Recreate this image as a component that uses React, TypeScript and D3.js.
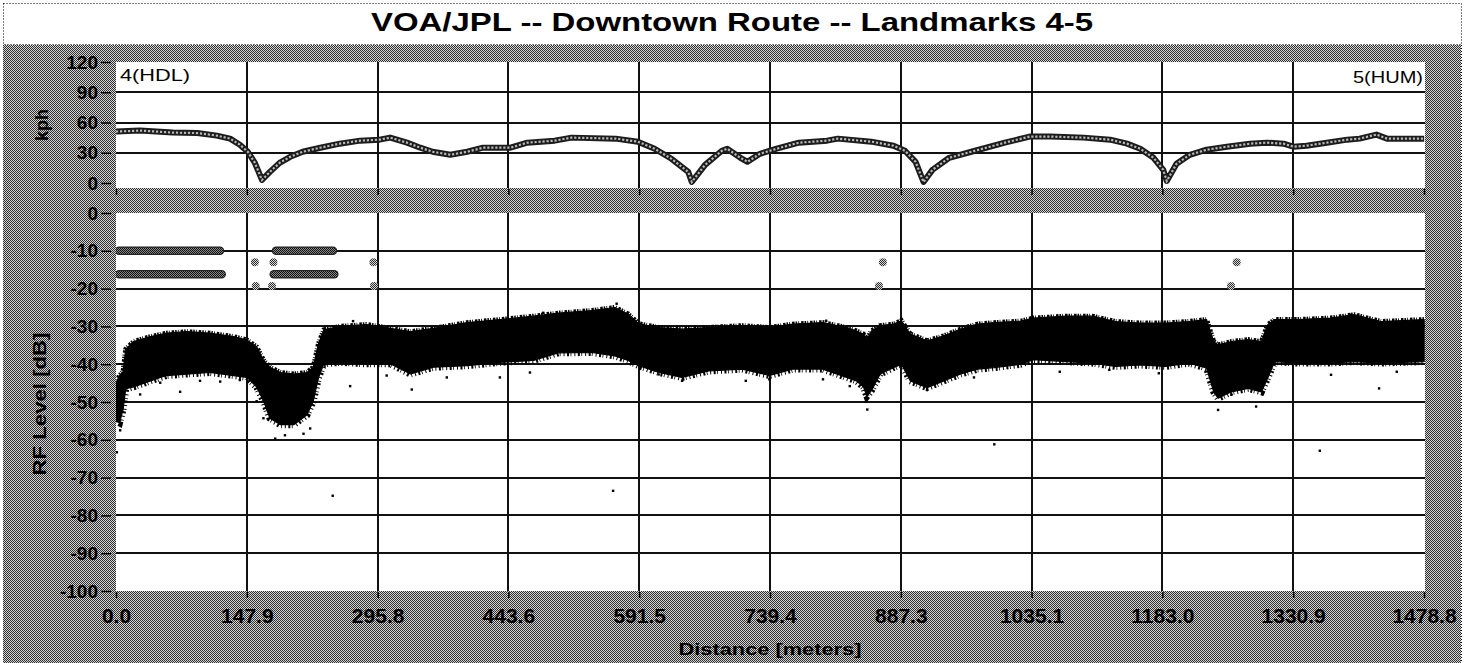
import React, { useEffect, useRef } from 'react';
import * as d3 from 'd3';

// tick labels
const xTickLabels = ['0.0', '147.9', '295.8', '443.6', '591.5', '739.4', '887.3', '1035.1', '1183.0', '1330.9', '1478.8'];
const kphTicks = [0, 30, 60, 90, 120];
const dbTicks = [0, -10, -20, -30, -40, -50, -60, -70, -80, -90, -100];

// vehicle speed (kph) vs distance (m)
const speedDist = [0, 27, 64, 92, 114, 129, 140, 149, 157, 165, 174, 185, 197, 211, 231, 253, 276, 298, 310, 329, 344, 358, 378, 397, 415, 446, 465, 496, 515, 565, 590, 609, 628, 647, 651, 666, 685, 691, 706, 714, 728, 747, 772, 804, 816, 854, 879, 892, 904, 913, 923, 942, 967, 1005, 1033, 1056, 1094, 1124, 1143, 1158, 1173, 1184, 1188, 1199, 1214, 1233, 1256, 1282, 1301, 1320, 1331, 1346, 1369, 1392, 1406, 1425, 1437, 1479];
const speedKph = [51, 52, 50, 49.5, 47, 44, 38, 31, 20, 3, 11, 20, 26, 31, 35, 39, 42, 43, 45, 40, 35, 31, 28, 31, 35, 35, 40, 42, 45, 44, 41, 34, 24, 11, 1, 18, 32, 34, 25, 21, 29, 34, 40, 42, 44, 41, 37, 32, 21, 1, 13, 25, 31, 40, 46, 46, 45, 43, 39, 34, 25, 13, 2, 19, 28, 33, 36, 39, 40, 39, 36, 37, 40, 43, 44, 48, 44, 44];

// RF level band: dense top and bottom edges of the received samples (dB)
const rfDist = [0, 4, 8, 11, 20, 39, 57, 80, 106, 133, 148, 159, 167, 174, 186, 201, 216, 223, 229, 235, 253, 283, 310, 333, 359, 397, 434, 472, 500, 538, 564, 579, 591, 614, 640, 670, 708, 739, 765, 799, 826, 837, 845, 849, 854, 864, 879, 888, 898, 917, 936, 955, 974, 993, 1023, 1037, 1074, 1104, 1130, 1157, 1187, 1213, 1233, 1241, 1246, 1261, 1280, 1295, 1302, 1310, 1336, 1373, 1400, 1430, 1479];
const rfTop = [-45, -43, -42, -36, -34, -32.7, -31.8, -31.4, -31.8, -32.7, -33.6, -35.4, -39, -40.8, -42.2, -42.6, -42.2, -40.8, -34.5, -30.9, -30, -29.5, -30.5, -31.4, -30.5, -29, -28.2, -27.3, -26.5, -25.8, -25, -26.7, -29.3, -30.3, -30.7, -30.3, -29.8, -30.3, -29.4, -29, -30.3, -31.2, -32, -33.5, -31.2, -29.8, -29.4, -28.5, -32, -33.8, -32.5, -30.7, -29.4, -29, -28.6, -27.8, -27.3, -27.3, -28.7, -29.1, -29.1, -28.7, -28.2, -34, -34.9, -34, -33.5, -34, -29.6, -28.2, -28.2, -27.8, -26.9, -28.7, -28.2];
const rfBottom = [-55, -55.5, -52, -46.5, -46, -44.4, -43, -42.6, -42.2, -43, -43.5, -46, -49.8, -54.3, -56, -56, -53.4, -49.8, -43.5, -39.9, -39.5, -39.9, -39.9, -42.6, -40.8, -40.4, -39.5, -39, -37, -36.9, -37.8, -39, -40.4, -42.2, -43.5, -41.8, -41.3, -43, -41.3, -41.3, -43.5, -44.4, -46, -48.5, -47, -42.6, -40.9, -40, -44.4, -46.2, -44.4, -42.6, -41.3, -40.9, -40, -38.8, -39.3, -39.7, -40.6, -40.2, -40.6, -39.7, -41, -47.3, -49, -47.3, -46.4, -47.3, -43.7, -39.3, -39.7, -39.7, -39.3, -39.7, -39.3];

// stray RF samples outside the band
const strayDist = [1, 4.7, 27.3, 50, 72.5, 95, 117.8, 140, 159, 166.7, 180, 191, 212, 219.5, 245, 264.7, 268, 306, 334.4, 374, 434, 468, 483, 562, 566, 613.5, 640, 712, 738.6, 799.3, 803, 829.6, 848.6, 849.4, 909, 917, 970, 993, 1067, 1123, 1179, 1246, 1261, 1289, 1361, 1373.7, 1396, 1428, 1448];
const strayDb = [-63.3, -57.5, -48, -44.9, -47.3, -44.4, -44.6, -44.2, -49.8, -54.3, -59.7, -58.8, -58.4, -57, -74.8, -45.8, -28.6, -43, -46.7, -43.5, -43.5, -42.2, -26.4, -73.5, -24, -42.7, -44.4, -44.4, -44, -44, -28.5, -45.8, -48.8, -52, -45.3, -46.6, -43.5, -61.2, -42, -41.5, -42.4, -52.1, -48.1, -51.2, -62.9, -42.8, -26.9, -46.4, -42];

// status traces: continuous runs and single marks
const runLevels = [-10, -16.2];
const runStart = [[0, 177.5], [0, 175]];
const runEnd = [[117.6, 245.3], [119.5, 246.8]];
const markUpperDist = [157, 178, 291, 867, 1267];
const markLowerDist = [158, 176.4, 291.7, 862.6, 1260.6];
const markLevels = [-13, -19.3];

const W = 1468;
const H = 663;
const plotLeft = 116;
const plotRight = 1425;
const font = "'Liberation Sans', Arial, sans-serif";

function Axis({ axis, transform, fontSize }: { axis: any; transform: string; fontSize: number }) {
  const ref = useRef<SVGGElement>(null);
  useEffect(() => {
    const g = d3.select(ref.current as SVGGElement);
    g.selectAll('*').remove();
    g.call(axis);
    g.attr('font-family', null).attr('font-size', null);
    g.select('.domain').remove();
    g.selectAll('.tick line').attr('stroke', '#000').attr('stroke-width', 1.5);
    g.selectAll('.tick text')
      .attr('fill', '#000')
      .attr('font-family', font)
      .attr('font-weight', 'bold')
      .attr('font-size', fontSize);
  });
  return <g ref={ref} transform={transform} />;
}

export default function App() {
  const x = d3.scaleLinear().domain([0, 1478.8]).range([plotLeft, 1424]);
  const xTicks = xTickLabels.map(Number);
  const yKph = d3.scaleLinear().domain([0, 120]).range([183, 62]);
  const yDb = d3.scaleLinear().domain([-100, 0]).range([591, 213]);

  const speedLine = d3
    .line<number>()
    .x((d) => x(d))
    .y((_, i) => yKph(speedKph[i]))(speedDist) as string;

  const band = d3
    .area<number>()
    .x((d) => x(d))
    .y0((_, i) => yDb(rfBottom[i]))
    .y1((_, i) => yDb(rfTop[i]))(rfDist) as string;

  const topEdge = d3
    .line<number>()
    .x((d) => x(d))
    .y((_, i) => yDb(rfTop[i]))(rfDist) as string;

  const bottomEdge = d3
    .line<number>()
    .x((d) => x(d))
    .y((_, i) => yDb(rfBottom[i]))(rfDist) as string;

  return (
    <svg width={W} height={H} style={{ position: 'absolute', left: 0, top: 0, background: '#fff' }}>
      <defs>
        <pattern id="dither" width="2" height="2" patternUnits="userSpaceOnUse">
          <rect width="2" height="2" fill="#d6d6d6" />
          <rect width="1" height="1" fill="#2e2e2e" />
          <rect x="1" y="1" width="1" height="1" fill="#2e2e2e" />
        </pattern>
        <pattern id="mark" width="2" height="2" patternUnits="userSpaceOnUse">
          <rect width="2" height="2" fill="#8a8a8a" />
          <rect width="1" height="1" fill="#111" />
          <rect x="1" y="1" width="1" height="1" fill="#111" />
        </pattern>
        <clipPath id="clipTop">
          <rect x={plotLeft} y={62} width={plotRight - plotLeft} height={126} />
        </clipPath>
        <clipPath id="clipBottom">
          <rect x={plotLeft} y={213} width={plotRight - plotLeft} height={378} />
        </clipPath>
      </defs>

      {/* frame + title */}
      <rect x={3} y={45} width={1458} height={618} fill="url(#dither)" />
      <rect x={3.5} y={3.5} width={1458} height={41} fill="#fff" stroke="#000" strokeDasharray="1,2" />
      <line x1={1461.5} y1={45} x2={1461.5} y2={663} stroke="#000" strokeDasharray="1,2" />
      <text x={732} y={31} textAnchor="middle" fontFamily={font} fontWeight="bold" fontSize={25} textLength={722} lengthAdjust="spacingAndGlyphs">
        VOA/JPL -- Downtown Route -- Landmarks 4-5
      </text>

      {/* plot areas */}
      <rect x={plotLeft} y={62} width={plotRight - plotLeft} height={126} fill="#fff" />
      <rect x={plotLeft} y={213} width={plotRight - plotLeft} height={378} fill="#fff" />

      {/* grid */}
      <g stroke="#111" strokeWidth={2} shapeRendering="crispEdges">
        {kphTicks.slice(1, -1).map((t) => (
          <line key={'hk' + t} x1={plotLeft} x2={plotRight} y1={Math.round(yKph(t))} y2={Math.round(yKph(t))} />
        ))}
        {dbTicks.slice(1, -1).map((t) => (
          <line key={'hd' + t} x1={plotLeft} x2={plotRight} y1={Math.round(yDb(t))} y2={Math.round(yDb(t))} />
        ))}
        {xTicks.slice(1, -1).map((t) => (
          <g key={'v' + t}>
            <line x1={Math.round(x(t))} x2={Math.round(x(t))} y1={62} y2={188} />
            <line x1={Math.round(x(t))} x2={Math.round(x(t))} y1={213} y2={591} />
          </g>
        ))}
      </g>

      {/* speed trace */}
      <g clipPath="url(#clipTop)">
        <path d={speedLine} fill="none" stroke="#1c1c1c" strokeWidth={6} strokeLinejoin="round" />
        <path d={speedLine} fill="none" stroke="#b8b8b8" strokeWidth={2.2} strokeDasharray="2.2,1.8" />
      </g>
      <text x={120} y={81} fontFamily={font} fontSize={16} textLength={70} lengthAdjust="spacingAndGlyphs">4(HDL)</text>
      <text x={1423} y={83} textAnchor="end" fontFamily={font} fontSize={16} textLength={70} lengthAdjust="spacingAndGlyphs">5(HUM)</text>

      {/* RF level */}
      <g clipPath="url(#clipBottom)">
        <path d={band} fill="#000" stroke="#000" strokeWidth={1.2} strokeLinejoin="round" />
        <path d={topEdge} fill="none" stroke="#000" strokeWidth={5} strokeDasharray="1.5,1.2,0.8,2,2.5,1" />
        <path d={bottomEdge} fill="none" stroke="#000" strokeWidth={7} strokeDasharray="1,2.5,2,1.5,0.8,3" />
        {strayDist.map((d, i) => (
          <rect key={'s' + i} x={x(d) - 1.2} y={yDb(strayDb[i]) - 1.2} width={2.4} height={2.4} fill="#000" />
        ))}
        {runLevels.map((lvl, r) =>
          runStart[r].map((s, k) => (
            <g key={'run' + r + k}>
              <line x1={x(s) + 3} x2={x(runEnd[r][k])} y1={yDb(lvl)} y2={yDb(lvl)} stroke="#222" strokeWidth={8.5} strokeLinecap="round" />
              <line x1={x(s) + 3} x2={x(runEnd[r][k])} y1={yDb(lvl)} y2={yDb(lvl)} stroke="url(#mark)" strokeWidth={6} strokeLinecap="round" />
            </g>
          ))
        )}
        {[markUpperDist, markLowerDist].map((arr, r) =>
          arr.map((d, i) => (
            <circle key={'m' + r + i} cx={x(d)} cy={yDb(markLevels[r])} r={4} fill="url(#dither)" />
          ))
        )}
      </g>

      {/* axes */}
      <Axis
        axis={d3.axisLeft(yKph).tickValues(kphTicks).tickSize(10).tickPadding(3).tickFormat((d: any) => String(d))}
        transform="translate(111,0)"
        fontSize={19}
      />
      <Axis
        axis={d3.axisLeft(yDb).tickValues(dbTicks).tickSize(10).tickPadding(3).tickFormat((d: any) => String(d))}
        transform="translate(111,0)"
        fontSize={19}
      />
      <Axis
        axis={d3.axisBottom(x).tickValues(xTicks).tickSize(6).tickFormat(() => '')}
        transform="translate(0,189)"
        fontSize={19}
      />
      <Axis
        axis={d3.axisBottom(x).tickValues(xTicks).tickSize(6).tickPadding(10).tickFormat((_: any, i: number) => xTickLabels[i])}
        transform="translate(0,592)"
        fontSize={21}
      />

      {/* axis titles */}
      <text transform="translate(48,125) rotate(-90)" textAnchor="middle" fontFamily={font} fontWeight="bold" fontSize={18}>kph</text>
      <text transform="translate(46,404) rotate(-90)" textAnchor="middle" fontFamily={font} fontWeight="bold" fontSize={18} textLength={143} lengthAdjust="spacingAndGlyphs">
        RF Level [dB]
      </text>
      <text x={770} y={655} textAnchor="middle" fontFamily={font} fontWeight="bold" fontSize={17} textLength={183} lengthAdjust="spacingAndGlyphs">
        Distance [meters]
      </text>
    </svg>
  );
}
